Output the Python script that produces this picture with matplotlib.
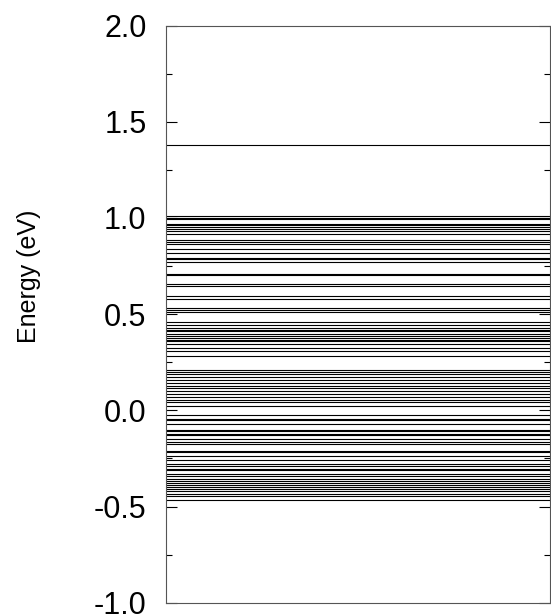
import numpy as np
import matplotlib.pyplot as plt
from matplotlib.ticker import MultipleLocator

plt.rcParams['font.family'] = ['Liberation Sans', 'DejaVu Sans']

# energy levels (eV)
levels = [
    1.380,
    1.010, 1.002, 0.993, 0.971, 0.962, 0.953, 0.940, 0.932, 0.919,
    0.884, 0.875, 0.862, 0.841, 0.818, 0.792, 0.784, 0.770,
    0.711, 0.702, 0.655, 0.645, 0.594, 0.581, 0.534, 0.520, 0.511,
    0.458, 0.442, 0.428, 0.420, 0.411, 0.399, 0.386, 0.376, 0.368,
    0.360, 0.347, 0.326, 0.308, 0.281,
    0.208, 0.199, 0.187, 0.173, 0.156, 0.142, 0.125, 0.118, 0.100,
    0.087, 0.069, 0.056, 0.042, 0.022,
    -0.026, -0.043, -0.052, -0.069, -0.100, -0.109, -0.121, -0.130,
    -0.147, -0.165, -0.177, -0.213, -0.218, -0.239, -0.260,
    -0.281, -0.291, -0.303, -0.312, -0.329, -0.343, -0.355, -0.368,
    -0.378, -0.390, -0.399, -0.411, -0.421, -0.433, -0.447, -0.466,
]
ytick_vals = [-1.0, -0.5, 0.0, 0.5, 1.0, 1.5, 2.0]
ytick_labels = ['-1.0', '-0.5', '0.0', '0.5', '1.0', '1.5', '2.0']

fig = plt.figure(figsize=(5.51, 6.14), dpi=100)
ax = fig.add_axes([0.301, 0.0184, 0.697, 0.9400])

ax.hlines(levels, 0, 1, colors='black', linewidth=0.8)

ax.set_xlim(0, 1)
ax.set_ylim(-1.0, 2.0)
ax.set_xticks([])
ax.set_yticks(ytick_vals)
ax.set_yticklabels(ytick_labels)
ax.yaxis.set_minor_locator(MultipleLocator(0.25))
ax.tick_params(axis='y', which='both', direction='in', left=True, right=True,
               labelsize=22, pad=14)
ax.tick_params(axis='y', which='major', length=8, width=0.8)
ax.tick_params(axis='y', which='minor', length=4, width=0.8)
for s in ax.spines.values():
    s.set_linewidth(0.8)
    s.set_color('#555555')

ax.set_ylabel('Energy (eV)', fontsize=18)
ax.yaxis.set_label_coords(-0.325, 0.566)

fig.savefig('out.png', dpi=100)
